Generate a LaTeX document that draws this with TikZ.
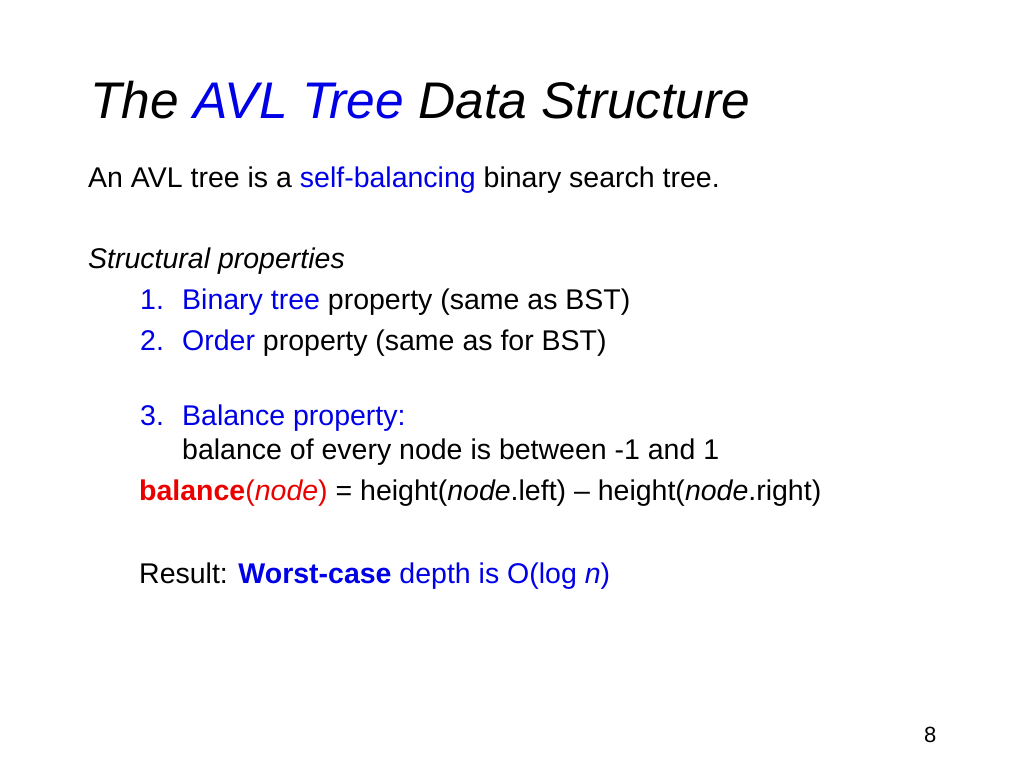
\documentclass[tikz,border=0pt]{standalone}
\usepackage{fontspec}
\setmainfont{Liberation Sans}
\definecolor{slideblue}{RGB}{0,0,230}
\definecolor{slidered}{RGB}{235,0,0}
\tikzset{
    every node/.style={anchor=base west, inner sep=0pt,
    	font=\fontsize{28.5}{34}\selectfont}
}
\tikzset{titlefont/.style={font=\fontsize{51.5}{60}\selectfont\itshape}}

\begin{document}
\begin{tikzpicture}[x=1pt, y=-1pt]
  \useasboundingbox (0,0) rectangle (1024,768);
  \node (title) [titlefont] at (90,118) {The \textcolor{slideblue}{AVL Tree} Data Structure};
  \node (intro) at (88,187) {An AVL tree is a \textcolor{slideblue}{self-balancing} binary search tree.};
  
  \node (props) at (88,268) {\itshape Structural properties};
  \node (n1) [text=slideblue] at (140,309) {1.};
  \node (p1) at (182,309) {\textcolor{slideblue}{Binary tree} property (same as BST)};
  \node (n2) [text=slideblue] at (140,350) {2.};
  \node (p2) at (182,350) {\textcolor{slideblue}{Order} property (same as for BST)};
  \node (n3) [text=slideblue] at (140,425) {3.};
  \node (p3) [text=slideblue] at (182,425) {Balance property:};
  \node (p3b) at (182,459) {balance of every node is between -1 and 1};
  
  \node (bal) at (139,500) {\textcolor{slidered}{\textbf{balance}(\textit{node})} = height(\textit{node}.left) -- height(\textit{node}.right)};
  \node (res) at (139,583) {Result: \textcolor{slideblue}{\textbf{Worst-case} depth is O(log \textit{n})}};
  
  \node (pg) [font=\fontsize{22}{26}\selectfont] at (924,742) {8};
\end{tikzpicture}
\end{document}
